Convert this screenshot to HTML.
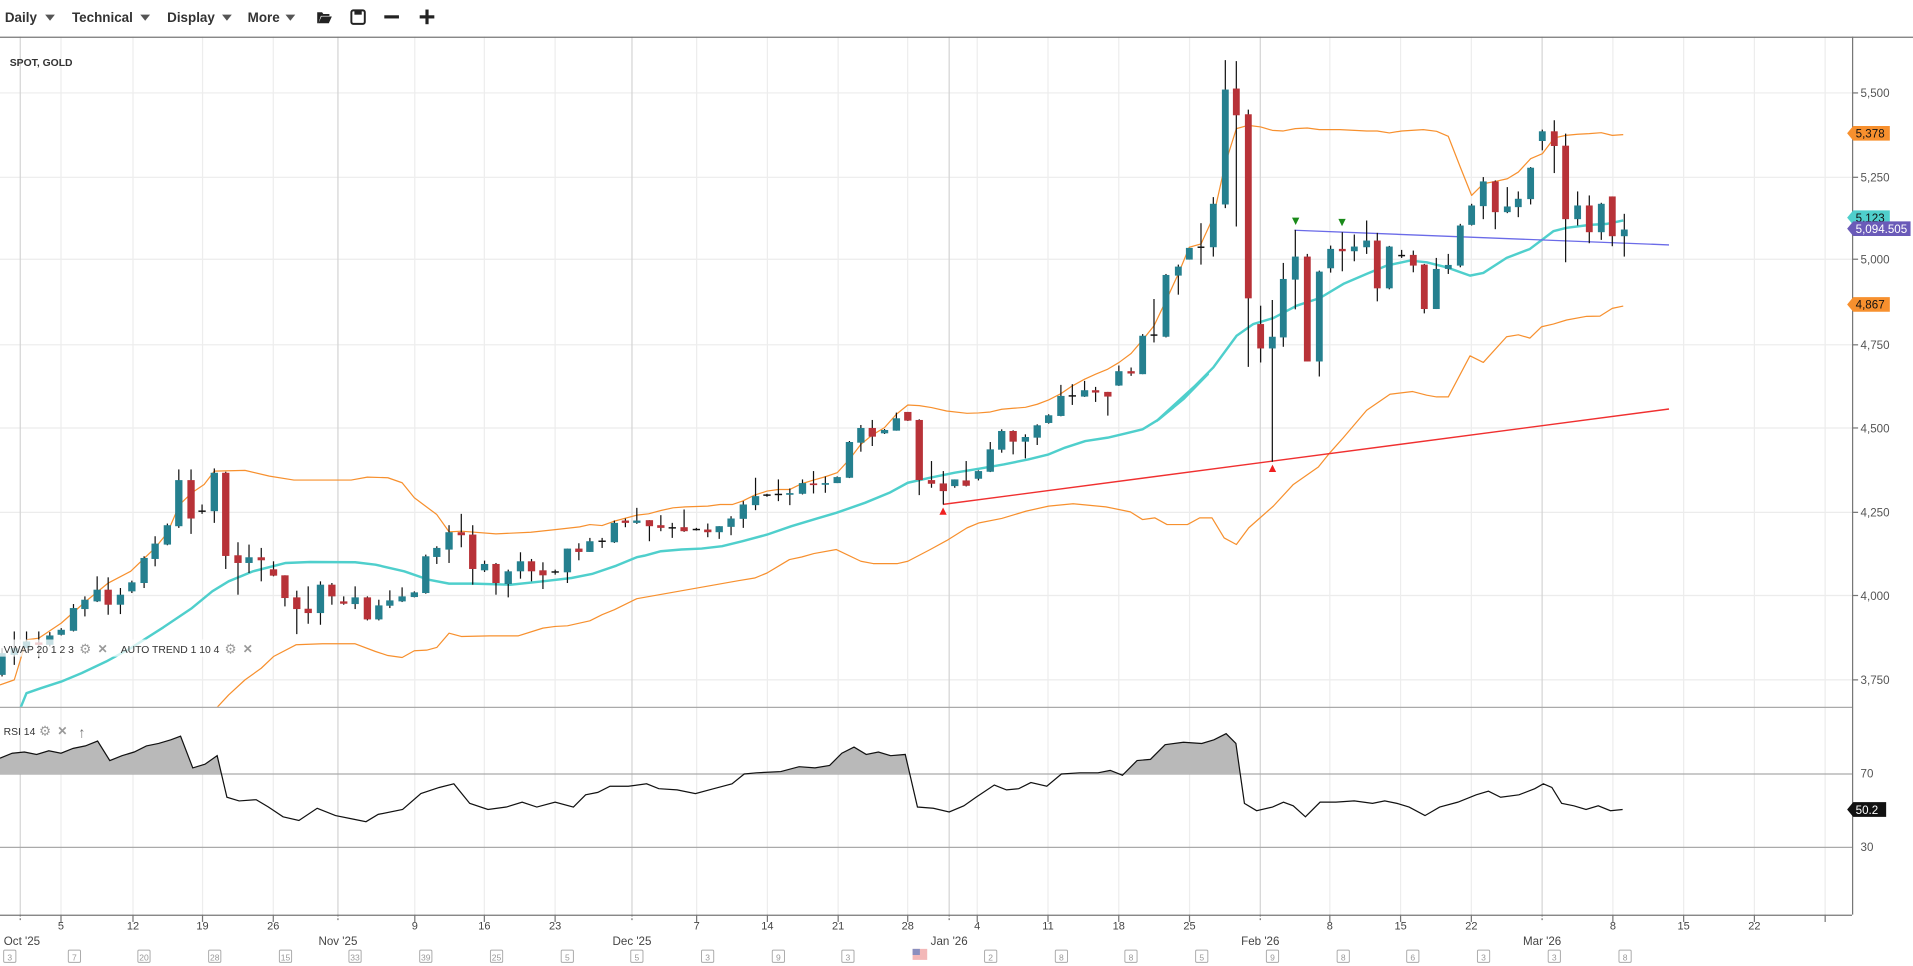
<!DOCTYPE html>
<html><head><meta charset="utf-8">
<style>
html,body{margin:0;padding:0;background:#fff;overflow:hidden}
svg{display:block}
text{font-family:"Liberation Sans",sans-serif}
</style></head>
<body>
<svg id="s" width="1913" height="966" viewBox="0 0 1568 790" preserveAspectRatio="none" xmlns="http://www.w3.org/2000/svg">
<rect x="0" y="0" width="1568" height="790" fill="#fff"/>
<g id="grid"></g>
<g id="bands"></g>
<g id="rsi"></g>
<g id="candles"></g>
<g id="top"></g>
</svg>
<script>
const NS="http://www.w3.org/2000/svg";
function el(p,tag,a,txt){const e=document.createElementNS(NS,tag);for(const k in a)e.setAttribute(k,a[k]);if(txt!==undefined)e.textContent=txt;p.appendChild(e);return e;}
const G=document.getElementById('grid'),B=document.getElementById('bands'),R=document.getElementById('rsi'),C=document.getElementById('candles'),T=document.getElementById('top');
// zoom transforms
const z4=(x,y)=>[x*0.3346,311.5+y*0.2732];
const z5=(x,y)=>[508.2+x*0.3346,270.5+y*0.2732];
const z6=(x,y)=>[934.4+x*0.2732,32.8+y*0.2732];
// grid
const priceY={5500:76,5250:145,5000:212,4750:282,4500:350,4250:419,4000:487,3750:556};
for(const p in priceY){el(G,'line',{x1:0,x2:1518,y1:priceY[p],y2:priceY[p],stroke:'#ececec','stroke-width':1});
 el(G,'line',{x1:1518,x2:1523,y1:priceY[p],y2:priceY[p],stroke:'#777'});
 el(G,'text',{x:1525,y:priceY[p]+3.5,'font-size':9.5,fill:'#555'},Number(p).toLocaleString('en-US'));}
const weeks=[[16.6,'',1],[50,'5'],[109,'12'],[166,'19'],[224,'26'],[277,'',1],[340,'9'],[397,'16'],[455,'23'],[518,'',1],[571,'7'],[629,'14'],[687,'21'],[744,'28'],[778,'',1],[801,'4'],[859,'11'],[917,'18'],[975,'25'],[1033,'',1],[1090,'8'],[1148,'15'],[1206,'22'],[1264,'',1],[1322,'8'],[1380,'15'],[1438,'22'],[1496,'']];
for(const w of weeks){el(G,'line',{x1:w[0],x2:w[0],y1:30,y2:748,stroke:w[2]?'#d4d4d4':'#ededed','stroke-width':1});
 el(G,'line',{x1:w[0],x2:w[0],y1:748,y2:754,stroke:'#777','stroke-dasharray':w[2]?'1.5,1.5':''});
 if(w[1])el(G,'text',{x:w[0],y:760,'font-size':9,fill:'#444','text-anchor':'middle'},w[1]);}
const months=[[16.6,"Oct '25"],[277,"Nov '25"],[518,"Dec '25"],[778,"Jan '26"],[1033,"Feb '26"],[1264,"Mar '26"]];
for(const m of months)el(G,'text',{x:Math.max(m[0],18),y:773,'font-size':9.5,fill:'#444','text-anchor':'middle'},m[1]);
const cal=[[8,'3'],[61,'7'],[118,'20'],[176,'28'],[234,'15'],[291,'33'],[349,'39'],[407,'25'],[465,'5'],[522,'5'],[580,'3'],[638,'9'],[695,'3'],[812,'2'],[870,'8'],[927,'8'],[985,'5'],[1043,'9'],[1101,'8'],[1158,'6'],[1216,'3'],[1274,'3'],[1332,'8']];
for(const c of cal){el(G,'rect',{x:c[0]-5,y:777,width:10,height:10,fill:'#fff',stroke:'#aaa','stroke-width':0.8,rx:1});
 el(G,'text',{x:c[0],y:785.5,'font-size':7,fill:'#999','text-anchor':'middle'},c[1]);}
el(G,'rect',{x:748,y:776,width:12,height:9,fill:'#f3b8b8'});el(G,'rect',{x:748,y:776,width:6,height:5,fill:'#8a8fbf'});
// RSI grid
el(G,'line',{x1:0,x2:1518,y1:633,y2:633,stroke:'#aaa'});el(G,'line',{x1:0,x2:1518,y1:693,y2:693,stroke:'#aaa'});
el(G,'text',{x:1525,y:636,'font-size':9.5,fill:'#555'},'70');el(G,'text',{x:1525,y:696,'font-size':9.5,fill:'#555'},'30');
// frames
el(G,'line',{x1:0,x2:1568,y1:30.5,y2:30.5,stroke:'#777'});
el(G,'line',{x1:1518.5,x2:1518.5,y1:30,y2:748,stroke:'#777'});
el(G,'line',{x1:0,x2:1518,y1:578.5,y2:578.5,stroke:'#aaa'});
el(G,'line',{x1:0,x2:1518,y1:748.5,y2:748.5,stroke:'#777'});
// clip for main panel
const defs=el(document.getElementById('s'),'defs',{});
const cp=el(defs,'clipPath',{id:'mc'});el(cp,'rect',{x:0,y:31,width:1518,height:547});
B.setAttribute('clip-path','url(#mc)');C.setAttribute('clip-path','url(#mc)');
function poly(parts,stroke,w){let pts=[];for(const [f,arr] of parts)for(const p of arr){const q=f(p[0],p[1]);pts.push(q[0].toFixed(1)+','+q[1].toFixed(1));}
 el(B,'polyline',{points:pts.join(' '),fill:'none',stroke:stroke,'stroke-width':w,'stroke-linejoin':'round'});}
const up4=[[0,910],[35,895],[65,775],[95,770],[150,725],[210,660],[265,605],[320,570],[380,500],[410,455],[440,370],[470,335],[500,310],[525,270],[600,268],[660,285],[720,297],[790,297],[860,297],[900,288],[950,290],[985,305],[1015,350],[1070,400],[1100,452],[1130,450],[1215,458],[1300,453],[1360,445],[1420,437],[1445,430],[1475,433],[1505,420],[1560,402]];
const up5=[[70,548],[100,538],[130,530],[160,527],[215,525],[245,520],[275,520],[300,510],[330,492],[360,480],[388,475],[416,475],[445,458],[474,447],[503,437],[532,425],[562,385],[590,340],[618,312],[648,290],[677,250],[705,222],[733,224],[763,230],[800,240],[850,247],[878,246],[907,243],[935,235],[963,232],[993,229],[1022,220],[1050,207],[1080,188],[1108,165],[1138,145],[1165,130],[1195,115],[1222,95],[1252,68],[1280,28]];
const up6=[[42,855],[78,780],[115,700],[148,620],[183,610],[220,530],[256,370],[289,265],[325,255],[362,260],[397,270],[430,272],[466,265],[502,263],[538,268],[600,268],[680,272],[712,272],[748,278],[785,272],[850,268],[890,273],[925,288],[961,380],[995,465],[1030,430],[1066,423],[1102,415],[1135,395],[1172,355],[1207,340],[1243,293],[1277,285],[1313,282],[1348,280],[1384,277],[1417,285],[1450,283]];
poly([[z4,up4],[z5,up5],[z6,up6]],'#f7902e',1);
const lo4=[[530,980],[560,940],[600,895],[640,860],[670,825],[725,790],[790,787],[870,787],[920,810],[950,822],[985,828],[1015,808],[1045,806],[1070,798],[1100,755],[1130,765],[1200,763],[1270,763],[1330,740],[1360,735],[1390,733],[1445,718],[1475,700],[1505,685],[1560,652]];
const lo5=[[100,690],[200,670],[290,748],[330,740],[360,725],[415,685],[445,677],[475,667],[530,655],[590,690],[620,697],[680,697],[705,690],[760,655],[800,628],[850,590],[880,575],[935,562],[995,540],[1050,525],[1110,518],[1190,527],[1250,542],[1280,565],[1310,560],[1340,580],[1390,580],[1420,560],[1450,560],[1480,620],[1510,640],[1540,590]];
const lo6=[[400,1395],[460,1330],[535,1278],[570,1235],[610,1190],[680,1108],[750,1060],[818,1052],[860,1063],[890,1068],[925,1068],[990,945],[1030,965],[1100,888],[1135,882],[1170,892],[1205,858],[1240,850],[1280,838],[1340,827],[1380,826],[1417,803],[1450,796]];
// lo5 first points are placeholders replaced: use only proper part
poly([[z4,lo4],[z5,lo5.slice(2)],[z6,lo6]],'#f7902e',1);
const v4=[[50,980],[65,935],[100,920],[150,900],[200,875],[260,840],[320,800],[400,738],[470,680],[520,630],[560,600],[620,570],[700,545],[760,542],[870,543],[920,550],[990,570],[1050,595],[1100,607],[1160,607],[1250,610],[1330,600],[1400,590],[1450,578],[1510,553],[1560,528]];
const v5=[[60,673],[100,660],[150,655],[200,652],[250,645],[300,630],[360,610],[420,585],[480,563],[530,545],[600,515],[660,485],[705,455],[760,440],[820,425],[880,413],[940,400],[1000,385],[1050,370],[1090,350],[1140,330],[1195,320],[1240,307],[1280,295],[1320,265],[1380,205],[1440,130]];
const v6=[[50,1140],[100,1100],[150,1050],[220,980],[290,885],[340,850],[400,832],[470,795],[540,772],[610,730],[680,700],[740,675],[810,660],[860,665],[920,680],[990,705],[1030,697],[1100,652],[1170,625],[1240,572],[1280,562],[1350,553],[1400,550],[1450,540]];
poly([[z4,v4],[z5,v5],[z6,v6]],'#4fcfcc',2);
// trend lines
el(B,'line',{x1:773,y1:412.5,x2:1368,y2:334.5,stroke:'#f03030','stroke-width':1.2});
el(B,'line',{x1:1061,y1:188.3,x2:1368,y2:200.3,stroke:'#6b6be8','stroke-width':1.1});
el(B,'polygon',{points:'770,421 776,421 773,415',fill:'#f02020'});
el(B,'polygon',{points:'1040,386 1046,386 1043,380',fill:'#f02020'});
el(B,'polygon',{points:'1059,178 1065,178 1062,184',fill:'#1a8a1a'});
el(B,'polygon',{points:'1097,179 1103,179 1100,185',fill:'#1a8a1a'});
// candles
function cand(f,arr,w){for(const c of arr){const [x,bt]=f(c[0],c[1]);const bb=f(c[0],c[2])[1];const wt=f(c[0],c[3])[1];const wb=f(c[0],c[4])[1];
 el(C,'line',{x1:x,x2:x,y1:wt,y2:wb,stroke:'#111','stroke-width':1});
 let h=bb-bt;if(h<1.2){el(C,'line',{x1:x-w/2,x2:x+w/2,y1:bt,y2:bt,stroke:c[5]=='r'?'#b83238':'#111','stroke-width':1.2});continue;}
 el(C,'rect',{x:x-w/2,y:bt,width:w,height:h,fill:c[5]=='r'?'#b83238':'#25808f'});}}
const c4=[[5,815,880,800,885,'t'],[35,800,820,750,850,'t'],[65,780,800,750,800,'t'],[95,783,790,750,830,'r'],[122,762,790,752,795,'t'],[150,745,760,740,762,'t'],[180,680,748,668,750,'t'],[208,655,683,645,705,'t'],[238,625,660,585,662,'t'],[265,625,670,588,700,'r'],[295,640,670,620,698,'t'],[323,603,630,598,635,'t'],[353,530,605,525,620,'t'],[380,487,533,465,555,'t'],[410,432,490,427,492,'t'],[438,297,435,265,440,'t'],[468,297,412,265,458,'r'],[495,390,390.5,370,398,'t'],[525,275,390,262,425,'t'],[553,275,524,272,563,'r'],[583,522,545,483,640,'r'],[610,528,545,490,575,'t'],[640,528,537,500,600,'r'],[670,564,583,540,585,'r'],[698,582,650,582,675,'r'],[727,648,683,628,758,'r'],[755,682,695,615,727,'r'],[785,610,695,600,730,'t'],[813,610,645,605,670,'r'],[842,660,667,645,670,'r'],[870,648,668,615,683,'t'],[900,648,714,645,717,'r'],[928,672,714,655,717,'t'],[955,657,673,627,680,'t'],[985,645,660,618,662,'t'],[1015,633,647,630,648,'t'],[1043,525,635,520,637,'t'],[1070,500,527,495,548,'t'],[1100,453,505,432,545,'t'],[1130,453,462,398,498,'r'],[1158,460,563,432,610,'r'],[1187,548,567,538,572,'t'],[1215,548,605,545,640,'r'],[1245,570,608,565,648,'t'],[1275,540,570,513,592,'t'],[1302,540,570,533,600,'r'],[1330,567,582,543,623,'r'],[1360,572,572.5,565,580,'t'],[1390,502,573,502,605,'t'],[1418,502,512,486,537,'r'],[1445,480,512,470,512,'t'],[1475,480,480.5,470,500,'t'],[1505,425,483,418,485,'t'],[1532,418,425,412,438,'r'],[1560,418,425,380,428,'t']];
const c5=[[72,567,585,567,630,'r'],[100,582,590,552,600,'r'],[128,590,590.5,575,620,'t'],[157,588,600,535,602,'r'],[187,595,595.5,590,598,'t'],[215,595,603,577,618,'r'],[243,585,603,585,623,'t'],[272,562,587,555,612,'t'],[302,520,563,510,590,'t'],[332,495,522,440,537,'t'],[360,492,492.5,488,497,'t'],[388,490,490.5,445,510,'t'],[416,486,491,472,522,'t'],[447,456,488,445,490,'t'],[474,457,462,420,487,'r'],[503,456,461,436,485,'t'],[532,438,456,436,456,'t'],[562,333,440,330,441,'t'],[590,291,335,282,362,'t'],[618,291,317,267,345,'r'],[648,297,307,294,309,'t'],[677,262,299,245,299,'t'],[705,243,269,243,270,'r'],[733,267,447,265,492,'r'],[763,447,458,390,470,'r'],[792,457,480,420,520,'r'],[820,445,465,445,470,'t'],[848,448,464,390,466,'r'],[878,420,443,418,448,'t'],[907,355,422,333,423,'t'],[935,300,356,295,365,'t'],[963,300,332,298,370,'r'],[993,318,332,310,382,'t'],[1022,283,320,280,342,'t'],[1050,253,276,250,278,'t'],[1080,195,255,162,256,'t'],[1108,195,195.5,160,222,'t'],[1138,178,197,150,198,'t'],[1165,178,185,168,213,'r'],[1195,183,197,183,254,'r'],[1222,121,164,104,165,'t'],[1252,121,128,110,135,'r']];
const c6=[[8,885,1000,880,1000,'t'],[42,883,883.5,775,905,'t'],[78,703,888,700,890,'t'],[115,678,705,672,762,'t'],[148,622,657,622,657,'t'],[183,620,620.5,548,672,'t'],[220,490,620,470,648,'t'],[256,148,492,60,503,'t'],[289,145,225,63,558,'r'],[325,222,773,208,978,'r'],[362,850,923,795,965,'r'],[397,888,923,778,1262,'t'],[430,715,890,667,918,'t'],[466,648,717,568,806,'t'],[502,648,962,640,962,'r'],[538,693,962,690,1007,'t'],[572,625,683,615,696,'t'],[607,625,632,575,692,'r'],[643,618,632,582,662,'t'],[680,600,620,540,640,'t'],[712,600,743,577,782,'r'],[748,618,743,616,746,'t'],[785,645,645.5,628,652,'t'],[820,643,675,630,695,'r'],[853,672,805,670,818,'r'],[889,685,805,652,805,'t'],[925,673,685,640,700,'t'],[961,555,675,550,680,'t'],[995,495,553,490,555,'t'],[1030,423,497,410,536,'t'],[1066,423,515,420,566,'r'],[1102,498,515,440,518,'t'],[1135,475,500,453,530,'t'],[1172,382,476,380,492,'t'],[1207,273,302,268,330,'t'],[1243,273,317,240,398,'r'],[1277,316,536,280,665,'r'],[1313,495,536,453,555,'t'],[1348,495,575,465,608,'r'],[1384,490,575,487,598,'t'],[1417,468,587,468,617,'r'],[1453,567,587,520,648,'t']];
cand(z4,c4,6);cand(z5,c5,6);cand(z6,c6,5.6);
// RSI
const rs=[[0,620],[10,616],[20,615],[30,617],[40,614],[50,616],[60,612],[70,610],[80,606],[90,622],[100,618],[110,615],[120,610],[130,608],[140,605],[148,602],[158,628],[168,625],[178,618],[186,652],[196,655],[210,654],[220,660],[232,668],[245,671],[260,661],[275,667],[290,670],[300,672],[310,666],[330,662],[345,649],[360,644],[372,641],[385,657],[400,662],[415,660],[428,656],[440,660],[455,656],[470,660],[480,650],[490,648],[500,643],[515,643],[530,641],[540,645],[555,646],[570,649],[585,645],[600,641],[610,633],[620,632],[640,631],[655,627],[668,628],[680,626],[690,616],[700,611],[710,617],[720,615],[730,618],[742,617],[752,660],[765,661],[778,664],[790,659],[800,652],[815,642],[825,646],[835,645],[845,640],[858,643],[870,633],[885,632],[900,632],[910,630],[920,634],[932,622],[943,621],[955,609],[970,607],[985,608],[995,605],[1005,600],[1013,608],[1020,657],[1030,663],[1043,660],[1052,656],[1060,659],[1070,668],[1082,656],[1095,656],[1110,655],[1125,657],[1135,655],[1145,657],[1155,660],[1168,667],[1180,660],[1195,656],[1210,650],[1220,647],[1230,652],[1245,650],[1258,645],[1265,641],[1272,644],[1280,657],[1290,659],[1300,662],[1310,659],[1320,663],[1330,662]];
const rc=el(defs,'clipPath',{id:'rc'});el(rc,'rect',{x:0,y:579,width:1518,height:54});
const pts=rs.map(p=>p.join(',')).join(' ');
el(R,'polygon',{points:'0,633 '+pts+' 1330,633',fill:'#b9b9b9','clip-path':'url(#rc)'});
el(R,'polyline',{points:pts,fill:'none',stroke:'#111','stroke-width':1});
// price tags
function tag(y,w,fill,txt,col){el(T,'polygon',{points:`1514,${y} 1519,${y-6} ${1519+w},${y-6} ${1519+w},${y+6} 1519,${y+6}`,fill:fill});
 el(T,'text',{x:1521,y:y+3.5,'font-size':9.5,fill:col},txt);}
tag(109,30,'#f7902e','5,378','#111');tag(178,30,'#4fcfcc','5,123','#111');tag(187,47,'#6a5ab8','5,094.505','#fff');tag(249,30,'#f7902e','4,867','#111');tag(662,27,'#111','50.2','#fff');
// toolbar
const tb=[[4,'Daily',37],[59,'Technical',115],[137,'Display',182],[203,'More',234]];
for(const t of tb){el(T,'text',{x:t[0],y:18,'font-size':11,'font-weight':'bold',fill:'#333'},t[1]);
 el(T,'polygon',{points:`${t[2]},12 ${t[2]+8},12 ${t[2]+4},17`,fill:'#555'});}
el(T,'path',{d:'M260,19 L260,10 L264,10 L265,11.5 L270,11.5 L270,13 L263,13 L261,19 Z M261,19 L263.5,13.5 L272,13.5 L269.5,19 Z',fill:'#222'});
el(T,'rect',{x:288,y:8.5,width:11,height:11,rx:1.5,fill:'none',stroke:'#222','stroke-width':1.6});
el(T,'rect',{x:290.5,y:8.5,width:6,height:3.5,fill:'#222'});
el(T,'rect',{x:315,y:12.5,width:12,height:2.6,fill:'#222'});
el(T,'rect',{x:344,y:12.5,width:12,height:2.6,fill:'#222'});el(T,'rect',{x:348.7,y:7.8,width:2.6,height:12,fill:'#222'});
// legends
el(T,'text',{x:8,y:54,'font-size':8.5,'font-weight':'bold',fill:'#333'},'SPOT, GOLD');
el(T,'rect',{x:0,y:523,width:212,height:14,fill:'#fff','fill-opacity':0.75});
el(T,'text',{x:3,y:534,'font-size':8.5,fill:'#333'},'VWAP 20 1 2 3');
el(T,'text',{x:65,y:534.5,'font-size':11,fill:'#999'},'⚙');el(T,'text',{x:80,y:534,'font-size':10,fill:'#999','font-weight':'bold'},'✕');
el(T,'text',{x:99,y:534,'font-size':8.5,fill:'#333'},'AUTO TREND 1 10 4');
el(T,'text',{x:184,y:534.5,'font-size':11,fill:'#999'},'⚙');el(T,'text',{x:199,y:534,'font-size':10,fill:'#999','font-weight':'bold'},'✕');
el(T,'text',{x:3,y:601,'font-size':8.5,fill:'#333'},'RSI 14');
el(T,'text',{x:32,y:601.5,'font-size':11,fill:'#999'},'⚙');el(T,'text',{x:47,y:601,'font-size':10,fill:'#999','font-weight':'bold'},'✕');
el(T,'text',{x:64,y:603,'font-size':12,fill:'#777'},'↑');
</script>
</body></html>
